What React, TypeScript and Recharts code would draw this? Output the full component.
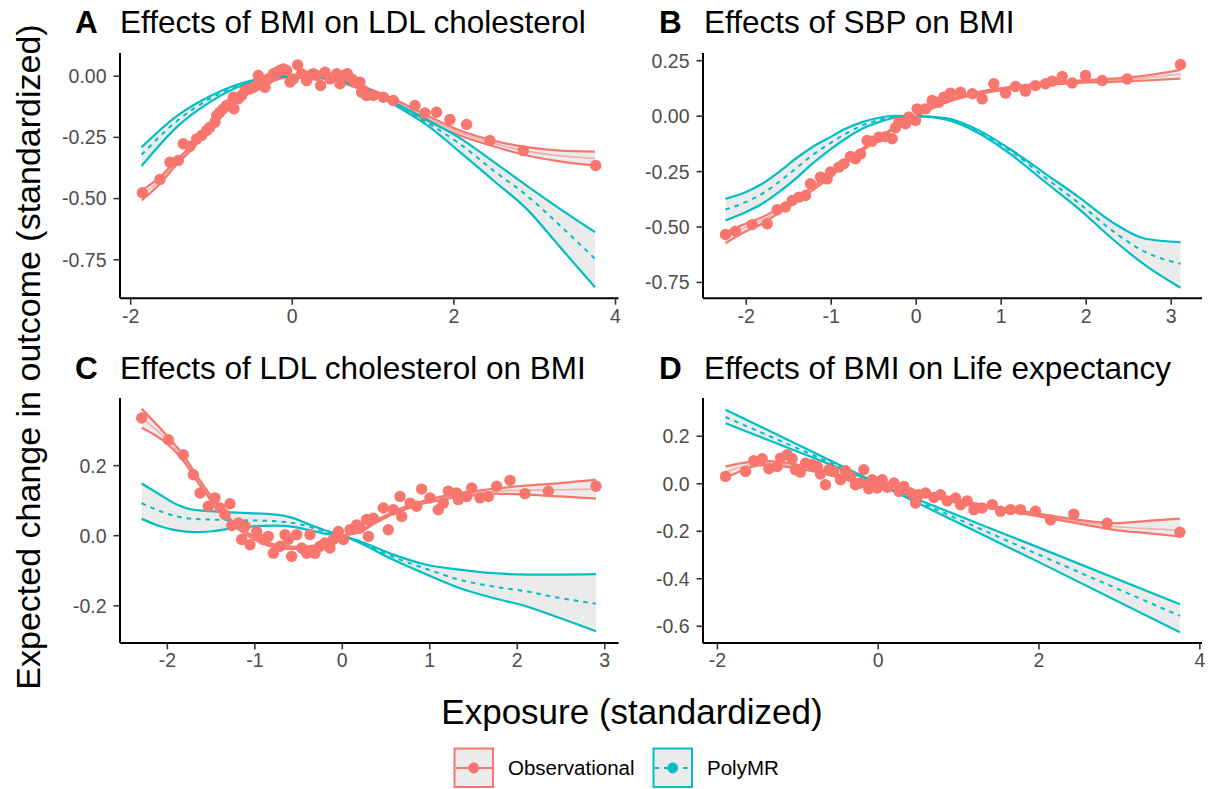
import { Area, ComposedChart, Line, Scatter, XAxis, YAxis } from 'recharts';

const RED = '#F8766D';
const TEAL = '#00BFC4';
const BAND = '#EBEBEB';
const FONT = '"Liberation Sans", Arial, Helvetica, sans-serif';

// rows are [x, lower, estimate, upper]; points are [x, y]

// A: Effects of BMI on LDL cholesterol
const aObs = [
  [-1.865, -0.508, -0.487, -0.467], [-1.64, -0.44, -0.426, -0.413], [-1.43, -0.361, -0.351, -0.341],
  [-1.22, -0.291, -0.283, -0.275], [-1.02, -0.215, -0.208, -0.201], [-0.81, -0.139, -0.133, -0.127],
  [-0.61, -0.077, -0.072, -0.067], [-0.4, -0.039, -0.035, -0.031], [-0.19, -0.014, -0.011, -0.008],
  [0, -0.001, 0, 0.001], [0.42, -0.011, -0.008, -0.005], [0.838, -0.052, -0.045, -0.038],
  [1.25, -0.106, -0.099, -0.092], [1.663, -0.181, -0.17, -0.16], [2.076, -0.242, -0.231, -0.222],
  [2.488, -0.286, -0.274, -0.263], [2.9, -0.324, -0.306, -0.29], [3.313, -0.348, -0.325, -0.304],
  [3.746, -0.365, -0.336, -0.308],
];
const aPoly = [
  [-1.865, -0.367, -0.321, -0.29], [-1.43, -0.208, -0.184, -0.163], [-1.02, -0.106, -0.092, -0.082],
  [-0.61, -0.036, -0.031, -0.027], [-0.3, -0.009, -0.008, -0.006], [0, 0, 0, 0],
  [0.42, -0.01, -0.008, -0.006], [0.9, -0.053, -0.05, -0.047], [1.25, -0.115, -0.11, -0.105],
  [1.663, -0.199, -0.188, -0.177], [2.076, -0.31, -0.277, -0.253], [2.488, -0.426, -0.385, -0.349],
  [2.9, -0.542, -0.487, -0.447], [3.313, -0.698, -0.61, -0.542], [3.746, -0.862, -0.746, -0.637],
];
const aPts = [
  [-1.856, -0.476], [-1.638, -0.422], [-1.514, -0.351], [-1.411, -0.344], [-1.349, -0.276], [-1.266, -0.286],
  [-1.184, -0.256], [-1.122, -0.242], [-1.06, -0.222], [-1.019, -0.208], [-0.957, -0.188], [-0.936, -0.161],
  [-0.895, -0.147], [-0.854, -0.133], [-0.812, -0.12], [-0.771, -0.113], [-0.722, -0.133], [-0.73, -0.086],
  [-0.668, -0.092], [-0.627, -0.079], [-0.585, -0.058], [-0.524, -0.052], [-0.482, -0.045], [-0.441, -0.038],
  [-0.42, 0.003], [-0.379, -0.024], [-0.338, -0.045], [-0.297, -0.011], [-0.235, 0.01], [-0.193, 0.016],
  [-0.152, 0.023], [-0.111, 0.03], [-0.07, 0.023], [-0.028, -0.024], [0.013, -0.011], [0.066, 0.046],
  [0.116, 0.01], [0.178, -0.018], [0.219, 0.003], [0.26, 0.01], [0.302, 0.003], [0.351, -0.038],
  [0.405, 0.016], [0.466, -0.011], [0.549, 0.01], [0.59, -0.031], [0.631, 0.003], [0.681, 0.01],
  [0.734, -0.011], [0.796, -0.024], [0.858, -0.065], [0.92, -0.079], [0.838, -0.024], [0.879, -0.059],
  [1.003, -0.079], [1.127, -0.086], [1.25, -0.099], [1.518, -0.12], [1.642, -0.15], [1.785, -0.147],
  [1.951, -0.177], [2.157, -0.197], [2.446, -0.263], [2.859, -0.304], [3.755, -0.365],
];

// B: Effects of SBP on BMI
const bObs = [
  [-2.243, -0.573, -0.546, -0.523], [-2.008, -0.52, -0.501, -0.485], [-1.812, -0.485, -0.47, -0.456],
  [-1.616, -0.437, -0.425, -0.414], [-1.42, -0.39, -0.38, -0.37], [-1.224, -0.336, -0.328, -0.32],
  [-1.028, -0.279, -0.272, -0.265], [-0.832, -0.213, -0.207, -0.201], [-0.636, -0.157, -0.152, -0.147],
  [-0.44, -0.103, -0.099, -0.095], [-0.244, -0.053, -0.05, -0.047], [0, -0.001, 0, 0.001],
  [0.227, 0.042, 0.045, 0.048], [0.462, 0.076, 0.08, 0.084], [0.737, 0.1, 0.105, 0.11],
  [1.129, 0.123, 0.128, 0.133], [1.521, 0.14, 0.145, 0.15], [1.913, 0.15, 0.155, 0.16],
  [2.305, 0.155, 0.162, 0.169], [2.697, 0.161, 0.172, 0.183], [3.109, 0.169, 0.19, 0.209],
];
const bPoly = [
  [-2.243, -0.47, -0.421, -0.373], [-2.008, -0.433, -0.388, -0.343], [-1.812, -0.395, -0.35, -0.305],
  [-1.616, -0.343, -0.297, -0.252], [-1.42, -0.283, -0.237, -0.192], [-1.224, -0.215, -0.177, -0.14],
  [-1.028, -0.155, -0.126, -0.098], [-0.832, -0.102, -0.08, -0.057], [-0.636, -0.057, -0.042, -0.027],
  [-0.44, -0.027, -0.017, -0.007], [-0.244, -0.007, -0.003, 0.002], [0, 0, 0, 0],
  [0.345, -0.015, -0.012, -0.009], [0.737, -0.077, -0.07, -0.064], [1.129, -0.177, -0.162, -0.155],
  [1.521, -0.298, -0.278, -0.26], [1.913, -0.418, -0.392, -0.365], [2.305, -0.553, -0.516, -0.478],
  [2.697, -0.673, -0.613, -0.553], [3.109, -0.774, -0.666, -0.568],
];
const bPts = [
  [-2.244, -0.534], [-2.126, -0.519], [-1.93, -0.489], [-1.753, -0.485], [-1.636, -0.422], [-1.538, -0.41],
  [-1.459, -0.38], [-1.381, -0.365], [-1.302, -0.358], [-1.244, -0.305], [-1.126, -0.275], [-1.048, -0.283],
  [-1.008, -0.252], [-0.91, -0.23], [-0.851, -0.215], [-0.773, -0.182], [-0.714, -0.192], [-0.655, -0.17],
  [-0.577, -0.11], [-0.518, -0.113], [-0.439, -0.095], [-0.361, -0.092], [-0.283, -0.102], [-0.244, -0.052],
  [-0.204, -0.027], [-0.126, -0.034], [-0.087, -0.004], [-0.008, -0.019], [0.011, 0.033], [0.109, 0.033],
  [0.188, 0.071], [0.266, 0.063], [0.325, 0.086], [0.403, 0.104], [0.521, 0.108], [0.659, 0.101],
  [0.776, 0.078], [0.913, 0.146], [1.051, 0.104], [1.168, 0.134], [1.286, 0.113], [1.403, 0.138],
  [1.521, 0.146], [1.6, 0.158], [1.717, 0.179], [1.835, 0.15], [1.992, 0.184], [2.188, 0.161],
  [2.482, 0.168], [3.109, 0.233],
];

// C: Effects of LDL cholesterol on BMI
const cObs = [
  [-2.293, 0.308, 0.336, 0.362], [-2.007, 0.263, 0.274, 0.286], [-1.817, 0.214, 0.222, 0.23],
  [-1.626, 0.143, 0.15, 0.157], [-1.436, 0.08, 0.086, 0.092], [-1.245, 0.029, 0.034, 0.039],
  [-1.055, -0.004, 0, 0.004], [-0.864, -0.027, -0.023, -0.019], [-0.674, -0.037, -0.033, -0.029],
  [-0.483, -0.038, -0.035, -0.032], [-0.293, -0.032, -0.03, -0.027], [-0.103, -0.012, -0.011, -0.009],
  [0, -0.001, 0, 0.001], [0.202, 0.01, 0.012, 0.014], [0.393, 0.038, 0.041, 0.044],
  [0.583, 0.062, 0.065, 0.068], [0.774, 0.08, 0.084, 0.088], [0.964, 0.094, 0.098, 0.102],
  [1.155, 0.103, 0.108, 0.113], [1.345, 0.112, 0.117, 0.122], [1.536, 0.116, 0.122, 0.128],
  [1.726, 0.12, 0.127, 0.134], [2.107, 0.117, 0.13, 0.143], [2.488, 0.112, 0.131, 0.15],
  [2.9, 0.106, 0.133, 0.16],
];
const cPoly = [
  [-2.293, 0.048, 0.093, 0.149], [-2.083, 0.027, 0.07, 0.117], [-1.893, 0.015, 0.055, 0.089],
  [-1.702, 0.01, 0.048, 0.074], [-1.512, 0.012, 0.046, 0.07], [-1.131, 0.025, 0.044, 0.065],
  [-0.75, 0.029, 0.041, 0.06], [-0.56, 0.025, 0.036, 0.05], [-0.369, 0.015, 0.025, 0.031],
  [-0.179, 0.005, 0.01, 0.014], [0, 0, 0, 0], [0.202, -0.021, -0.019, -0.016],
  [0.583, -0.069, -0.061, -0.054], [0.964, -0.111, -0.095, -0.083], [1.345, -0.15, -0.126, -0.097],
  [1.726, -0.178, -0.145, -0.107], [2.107, -0.202, -0.159, -0.111], [2.488, -0.235, -0.178, -0.111],
  [2.9, -0.273, -0.194, -0.11],
];
const cPts = [
  [-2.293, 0.336], [-1.988, 0.274], [-1.817, 0.231], [-1.703, 0.174], [-1.626, 0.122], [-1.531, 0.084],
  [-1.455, 0.108], [-1.398, 0.079], [-1.284, 0.091], [-1.341, 0.06], [-1.188, 0.036], [-1.264, 0.029],
  [-1.15, -0.011], [-1.112, 0.027], [-1.055, -0.026], [-0.979, 0.012], [-0.903, -0.011], [-0.846, -0.002],
  [-0.788, -0.05], [-0.712, -0.03], [-0.655, 0.003], [-0.617, -0.011], [-0.579, -0.059], [-0.522, 0.003],
  [-0.464, -0.035], [-0.407, -0.05], [-0.369, 0.003], [-0.312, -0.05], [-0.255, -0.03], [-0.198, -0.021],
  [-0.141, -0.035], [-0.103, -0.011], [-0.045, 0.012], [0.012, -0.011], [0.088, 0.017], [0.164, 0.031],
  [0.278, 0.046], [0.202, 0.022], [0.298, -0.002], [0.355, 0.05], [0.469, 0.079], [0.526, 0.017],
  [0.583, 0.074], [0.66, 0.112], [0.679, 0.055], [0.774, 0.093], [0.85, 0.084], [0.907, 0.133],
  [1.002, 0.108], [1.097, 0.074], [1.155, 0.093], [1.212, 0.127], [1.307, 0.122], [1.326, 0.103],
  [1.421, 0.112], [1.479, 0.136], [1.574, 0.108], [1.669, 0.112], [1.764, 0.141], [1.917, 0.158],
  [2.088, 0.12], [2.355, 0.127], [2.9, 0.141],
];

// D: Effects of BMI on Life expectancy
const dObs = [
  [-1.899, 0.024, 0.049, 0.073], [-1.422, 0.078, 0.087, 0.096], [-0.8, 0.052, 0.059, 0.066],
  [-0.386, 0.019, 0.024, 0.029], [0, -0.001, 0, 0.001], [0.443, -0.036, -0.032, -0.028],
  [0.858, -0.067, -0.063, -0.059], [1.272, -0.095, -0.091, -0.087], [1.687, -0.119, -0.114, -0.109],
  [2.102, -0.144, -0.138, -0.132], [2.516, -0.169, -0.161, -0.153], [2.931, -0.194, -0.18, -0.166],
  [3.345, -0.208, -0.189, -0.156], [3.752, -0.222, -0.196, -0.147],
];
const dPoly = [
  [-1.899, 0.255, 0.281, 0.312], [-0.8, 0.108, 0.119, 0.132], [0, 0, 0, 0],
  [1.998, -0.33, -0.299, -0.269], [3.752, -0.625, -0.556, -0.507],
];
const dPts = [
  [-1.899, 0.031], [-1.65, 0.052], [-1.547, 0.097], [-1.443, 0.105], [-1.36, 0.063], [-1.256, 0.073],
  [-1.215, 0.108], [-1.132, 0.122], [-1.07, 0.105], [-1.029, 0.059], [-0.966, 0.049], [-0.904, 0.087],
  [-0.821, 0.08], [-0.759, 0.073], [-0.718, 0.041], [-0.656, -0.004], [-0.614, 0.059], [-0.552, 0.052],
  [-0.469, 0.017], [-0.407, 0.055], [-0.345, 0.031], [-0.283, -0.004], [-0.22, 0.003], [-0.179, 0.059],
  [-0.117, -0.021], [-0.075, 0.017], [-0.013, -0.018], [0.049, 0.017], [0.112, -0.015], [0.195, 0.003],
  [0.257, -0.032], [0.319, -0.011], [0.402, -0.039], [0.464, -0.081], [0.506, -0.046], [0.589, -0.039],
  [0.692, -0.058], [0.775, -0.046], [0.858, -0.072], [0.962, -0.06], [1.024, -0.088], [1.107, -0.072],
  [1.19, -0.109], [1.293, -0.102], [1.418, -0.088], [1.521, -0.116], [1.645, -0.109], [1.769, -0.109],
  [1.956, -0.116], [2.143, -0.152], [2.433, -0.128], [2.848, -0.166], [3.752, -0.204],
];

const toRows = (t: number[][]) => t.map(([x, lo, mid, hi]) => ({ x, lo, mid, hi, band: [lo, hi] }));
const toPts = (t: number[][]) => t.map(([x, y]) => ({ x, y }));

const YW = 70;
const XH = 40;
const PAD_R = 24;
const PAD_T = 16;

const tickStyle = { fill: '#4D4D4D', fontSize: 19.5, fontFamily: FONT };

const Dot = (p: any) => <circle cx={p.cx} cy={p.cy} r={5.7} fill={RED} />;

type PanelProps = {
  left: number; top: number; w: number; h: number;
  xDomain: number[]; yDomain: number[]; xTicks: number[]; yTicks: number[]; digits: number;
  obs: number[][]; poly: number[][]; pts: number[][]; polyCurve?: 'monotone' | 'linear';
};

function Panel(p: PanelProps) {
  const obs = toRows(p.obs);
  const poly = toRows(p.poly);
  const pts = toPts(p.pts);
  const pc = p.polyCurve || 'monotone';
  return (
    <div style={{ position: 'absolute', left: p.left - YW, top: p.top - PAD_T }}>
      <ComposedChart width={p.w + YW + PAD_R} height={p.h + XH + PAD_T} margin={{ top: PAD_T, right: PAD_R, bottom: 0, left: 0 }}>
        <XAxis
          dataKey="x" type="number" domain={p.xDomain} ticks={p.xTicks} allowDataOverflow interval={0}
          height={XH} tickSize={6.5} tickMargin={4} tick={tickStyle}
          axisLine={{ stroke: '#000', strokeWidth: 2 }} tickLine={{ stroke: '#333', strokeWidth: 1.6 }}
        />
        <YAxis
          dataKey="y" type="number" domain={p.yDomain} ticks={p.yTicks} allowDataOverflow interval={0}
          width={YW} tickSize={6.5} tickMargin={7} tick={tickStyle}
          tickFormatter={(v: number) => v.toFixed(p.digits)}
          axisLine={{ stroke: '#000', strokeWidth: 2 }} tickLine={{ stroke: '#333', strokeWidth: 1.6 }}
        />
        <Area data={poly} dataKey="band" type={pc} stroke="none" fill={BAND} fillOpacity={1} isAnimationActive={false} />
        <Area data={obs} dataKey="band" type="monotone" stroke="none" fill={BAND} fillOpacity={1} isAnimationActive={false} />
        <Line data={obs} dataKey="lo" type="monotone" stroke={RED} strokeWidth={2.2} dot={false} isAnimationActive={false} />
        <Line data={obs} dataKey="hi" type="monotone" stroke={RED} strokeWidth={2.2} dot={false} isAnimationActive={false} />
        <Line data={obs} dataKey="mid" type="monotone" stroke={RED} strokeOpacity={0.5} strokeWidth={1.6} dot={false} isAnimationActive={false} />
        <Scatter data={pts} dataKey="y" fill={RED} shape={Dot} isAnimationActive={false} />
        <Line data={poly} dataKey="lo" type={pc} stroke={TEAL} strokeWidth={2.2} dot={false} isAnimationActive={false} />
        <Line data={poly} dataKey="hi" type={pc} stroke={TEAL} strokeWidth={2.2} dot={false} isAnimationActive={false} />
        <Line data={poly} dataKey="mid" type={pc} stroke={TEAL} strokeWidth={2} strokeDasharray="4.5 5" dot={false} isAnimationActive={false} />
      </ComposedChart>
    </div>
  );
}

const titles = [
  { tag: 'A', text: 'Effects of BMI on LDL cholesterol', x: 75, tx: 120, y: 33 },
  { tag: 'B', text: 'Effects of SBP on BMI', x: 659, tx: 704, y: 33 },
  { tag: 'C', text: 'Effects of LDL cholesterol on BMI', x: 75, tx: 120, y: 379 },
  { tag: 'D', text: 'Effects of BMI on Life expectancy', x: 659, tx: 704, y: 379 },
];

export default function App() {
  return (
    <div style={{ position: 'absolute', left: 0, top: 0, width: 1208, height: 789, background: '#fff', fontFamily: FONT }}>
      <Panel left={120} top={52.5} w={498.5} h={245.2} xDomain={[-2.132, 4.037]} yDomain={[-0.907, 0.0948]}
        xTicks={[-2, 0, 2, 4]} yTicks={[-0.75, -0.5, -0.25, 0]} digits={2} obs={aObs} poly={aPoly} pts={aPts} />
      <Panel left={702.5} top={52.5} w={499} h={245.2} xDomain={[-2.508, 3.362]} yDomain={[-0.821, 0.285]}
        xTicks={[-2, -1, 0, 1, 2, 3]} yTicks={[-0.75, -0.5, -0.25, 0, 0.25]} digits={2} obs={bObs} poly={bPoly} pts={bPts} />
      <Panel left={120} top={398.3} w={498.5} h={244.9} xDomain={[-2.541, 3.157]} yDomain={[-0.306, 0.393]}
        xTicks={[-2, -1, 0, 1, 2, 3]} yTicks={[-0.2, 0, 0.2]} digits={1} obs={cObs} poly={cPoly} pts={cPts} />
      <Panel left={702.5} top={398.3} w={499} h={244.9} xDomain={[-2.179, 4.027]} yDomain={[-0.67, 0.361]}
        xTicks={[-2, 0, 2, 4]} yTicks={[-0.6, -0.4, -0.2, 0, 0.2]} digits={1} obs={dObs} poly={dPoly} pts={dPts} polyCurve="linear" />

      <svg width={1208} height={789} style={{ position: 'absolute', left: 0, top: 0, pointerEvents: 'none' }}>
        {titles.map((t) => (
          <g key={t.tag} fontFamily={FONT} fontSize={31.5} fill="#000">
            <text x={t.x} y={t.y} fontWeight="bold">{t.tag}</text>
            <text x={t.tx} y={t.y}>{t.text}</text>
          </g>
        ))}
        <text x={632} y={724} textAnchor="middle" fontFamily={FONT} fontSize={35} fill="#000">Exposure (standardized)</text>
        <text transform="translate(40,357) rotate(-90)" textAnchor="middle" fontFamily={FONT} fontSize={34} fill="#000">
          Expected change in outcome (standardized)
        </text>

        <rect x={454.5} y={748.5} width={38.5} height={38.5} fill={BAND} stroke={RED} strokeWidth={2} />
        <line x1={455.5} x2={492} y1={768} y2={768} stroke={RED} strokeWidth={2} />
        <circle cx={473.7} cy={768} r={5.4} fill={RED} />
        <text x={508} y={775} fontFamily={FONT} fontSize={20.5} fill="#000">Observational</text>

        <rect x={653.5} y={748.5} width={38.5} height={38.5} fill={BAND} stroke={TEAL} strokeWidth={2} />
        <line x1={654.5} x2={691} y1={768} y2={768} stroke={TEAL} strokeWidth={2} strokeDasharray="4.5 5" />
        <circle cx={672.7} cy={768} r={5.4} fill={TEAL} />
        <text x={707} y={775} fontFamily={FONT} fontSize={20.5} fill="#000">PolyMR</text>
      </svg>
    </div>
  );
}
